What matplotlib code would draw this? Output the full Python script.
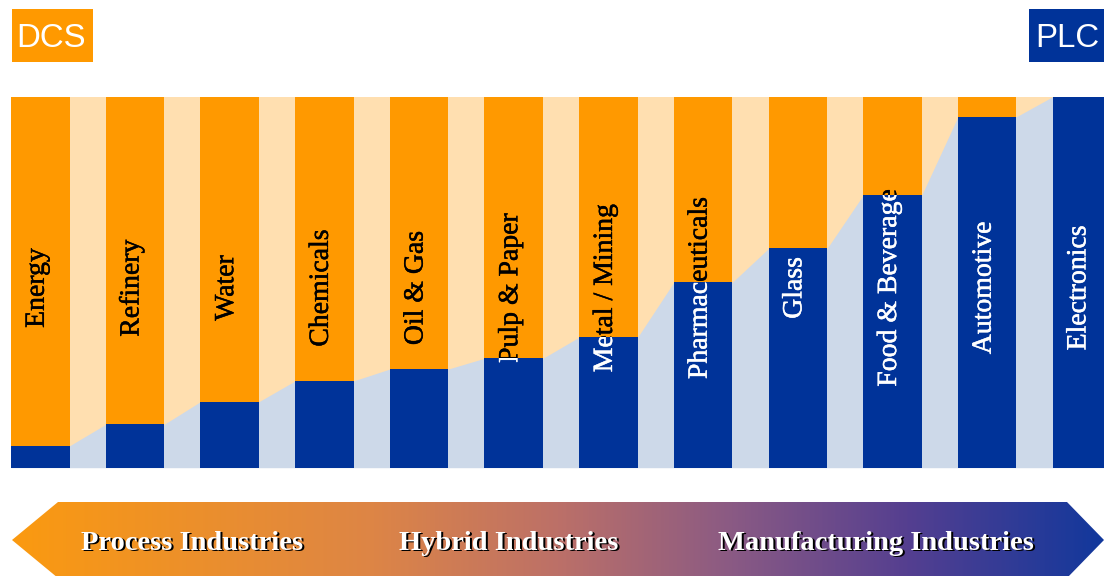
import matplotlib
matplotlib.use("Agg")
import matplotlib.pyplot as plt
import matplotlib.patheffects as pe
import numpy as np
from matplotlib.patches import Rectangle, Polygon
from matplotlib.colors import LinearSegmentedColormap

# ---------------- data ----------------
industries = ["Energy", "Refinery", "Water", "Chemicals", "Oil & Gas",
              "Pulp & Paper", "Metal / Mining", "Pharmaceuticals", "Glass",
              "Food & Beverage", "Automotive", "Electronics"]
plc_share = [5.9, 11.7, 17.8, 23.4, 26.6, 29.5, 35.2, 50.0, 59.1, 73.5, 94.6, 100.0]
dcs_share = [100 - v for v in plc_share]
groups = ["Process Industries", "Hybrid Industries", "Manufacturing Industries"]
corner_labels = ["DCS", "PLC"]

# ---------------- style / layout ----------------
ORANGE = "#FF9900"
BLUE = "#003399"
LIGHT_ORANGE = "#FFDFB0"
LIGHT_BLUE = "#CDD9E9"
W, H = 1104, 576
group_x = [192, 509, 876]

fig = plt.figure(figsize=(W / 100, H / 100), dpi=100)

# overlay axes in pixel coordinates for decorations
ax0 = fig.add_axes([0, 0, 1, 1], zorder=0)
ax0.set_axis_off()

# chart axes
top_px, bot_px = 96.7, 467.7
ax = fig.add_axes([0, (H - bot_px) / H, 1, (bot_px - top_px) / H], zorder=1)
ax.set_axis_off()
ax.patch.set_visible(False)

step_px = 94.69
first_c = 40.3
x = np.arange(len(industries))
bw = 58.5 / step_px
ax.set_xlim(-first_c / step_px, (W - first_c) / step_px)
ax.set_ylim(0, 100)

# background light orange
ax.axvspan(x[0] - bw / 2, x[-1] + bw / 2, color=LIGHT_ORANGE, lw=0, zorder=0)
# light blue area connecting PLC levels
xs, ys = [], []
for xi, p in zip(x, plc_share):
    xs += [xi - bw / 2, xi + bw / 2]
    ys += [p, p]
ax.fill_between(xs, 0, ys, color=LIGHT_BLUE, lw=0, zorder=1)

blue_bars = ax.bar(x, plc_share, bw, color=BLUE, lw=0, zorder=2)
orange_bars = ax.bar(x, dcs_share, bw, bottom=plc_share, color=ORANGE, lw=0, zorder=2)

label_y = (bot_px - 288) / (bot_px - top_px) * 100
off = 3.5 / step_px
for i, name in enumerate(industries):
    for col, patch in (("black", orange_bars.patches[i]), ("white", blue_bars.patches[i])):
        t = ax.text(x[i] + off, label_y, name, rotation=90, rotation_mode="anchor",
                    ha="center", va="baseline", fontsize=20,
                    family="Liberation Serif", color=col, zorder=3, clip_on=True,
                    path_effects=[pe.withStroke(linewidth=0.35, foreground=col)])
        t.set_clip_path(patch)

# ---------------- bottom gradient arrow ----------------
cmap = LinearSegmentedColormap.from_list(
    "grad", [(0.0, "#FB9A10"), (0.33, "#DD8546"), (0.5, "#BC7068"),
             (0.66, "#8A5A84"), (0.82, "#553F90"), (1.0, "#12389C")])
poly = Polygon([(12, 540), (58, 502), (1067, 502), (1104, 540), (1067, 578), (58, 578)],
               closed=True, facecolor="none", edgecolor="none")
ax0.add_patch(poly)
grad = np.linspace(0, 1, 512).reshape(1, -1)
im = ax0.imshow(grad, extent=(12, 1104, 578, 502), aspect="auto", cmap=cmap,
                interpolation="bilinear")
im.set_clip_path(poly)

for gx, g in zip(group_x, groups):
    ax0.text(gx + 1.6, 540 + 1.6, g, ha="center", va="center_baseline",
             fontsize=20.5, fontweight="bold", family="Liberation Serif", color="black")
    ax0.text(gx, 540, g, ha="center", va="center_baseline",
             fontsize=20.5, fontweight="bold", family="Liberation Serif", color="white")

# ---------------- corner boxes ----------------
ax0.add_patch(Rectangle((12, 9), 81, 53, color=ORANGE, lw=0))
ax0.text(16, 47, corner_labels[0], ha="left", va="baseline", fontsize=23.8,
         family="Liberation Sans", color="white")
ax0.add_patch(Rectangle((1029, 9), 85, 53, color=BLUE, lw=0))
ax0.text(1035, 47, corner_labels[1], ha="left", va="baseline", fontsize=23.8,
         family="Liberation Sans", color="white")

ax0.set_xlim(0, W)
ax0.set_ylim(H, 0)

fig.savefig("out.png", dpi=100)
